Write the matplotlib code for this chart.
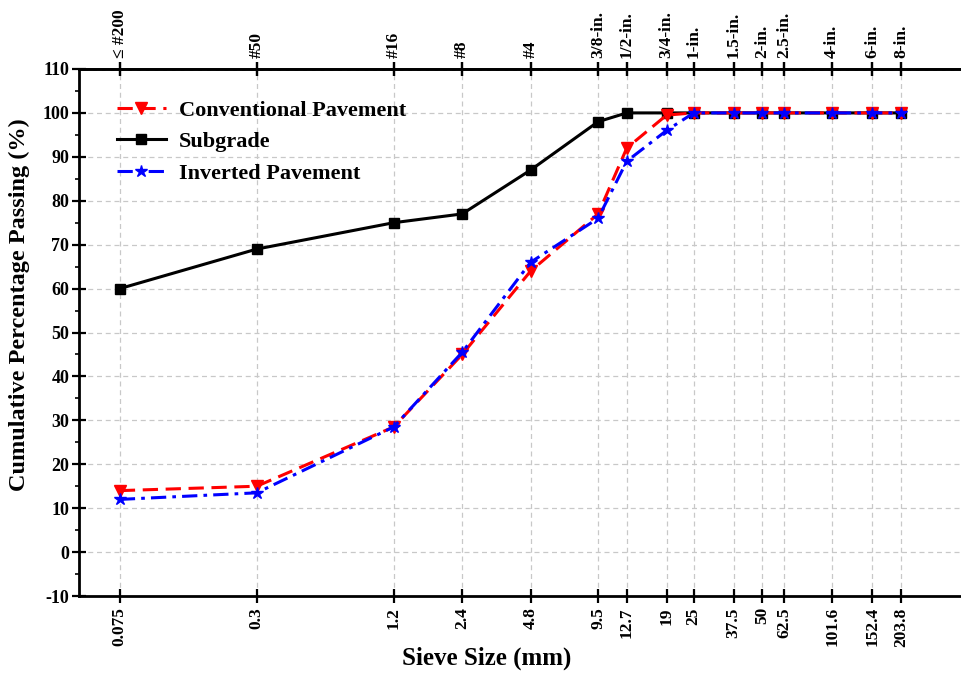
import matplotlib
matplotlib.use("Agg")
import matplotlib.pyplot as plt
from matplotlib.ticker import FixedLocator, MultipleLocator, NullLocator

# -------------------------
# Data
# -------------------------
sieve_mm = [0.075, 0.3, 1.2, 2.4, 4.8, 9.5, 12.7, 19, 25, 37.5, 50, 62.5, 101.6, 152.4, 203.8]
sieve_mm_labels = ["0.075", "0.3", "1.2", "2.4", "4.8", "9.5", "12.7", "19", "25",
                   "37.5", "50", "62.5", "101.6", "152.4", "203.8"]
sieve_names = ["\u2264 #200", "#50", "#16", "#8", "#4", "3/8-in.", "1/2-in.", "3/4-in.",
               "1-in.", "1.5-in.", "2-in.", "2.5-in.", "4-in.", "6-in.", "8-in."]

conventional = [14, 15, 28.5, 45, 64, 77, 92, 99.5, 100, 100, 100, 100, 100, 100, 100]
subgrade = [60, 69, 75, 77, 87, 98, 100, 100, 100, 100, 100, 100, 100, 100, 100]
inverted = [12, 13.5, 28.5, 45.5, 66, 76, 89, 96, 100, 100, 100, 100, 100, 100, 100]

# -------------------------
# Plot
# -------------------------
plt.rcParams["font.family"] = ["Liberation Serif", "DejaVu Sans"]
plt.rcParams["font.weight"] = "bold"
plt.rcParams["axes.unicode_minus"] = False

fig = plt.figure(figsize=(9.62, 6.79), dpi=100)
ax = fig.add_axes([0.0821, 0.1222, 0.9179, 0.7762])

l_sub, = ax.plot(sieve_mm, subgrade, color="black", lw=2.2, ls="-",
                 marker="s", ms=6.5, zorder=3, label="Subgrade")
l_con, = ax.plot(sieve_mm, conventional, color="red", lw=2.2, ls=(0, (5, 2.5)),
                 marker="v", ms=8, zorder=4, label="Conventional Pavement")
l_inv, = ax.plot(sieve_mm, inverted, color="blue", lw=2.2, ls=(0, (5, 2, 1.2, 2)),
                 marker="*", ms=9, zorder=5, label="Inverted Pavement")

ax.set_xscale("log")
ax.set_xlim(0.0496, 378)
ax.set_ylim(-10, 110)

ax.xaxis.set_major_locator(FixedLocator(sieve_mm))
ax.xaxis.set_minor_locator(NullLocator())
ax.set_xticklabels(sieve_mm_labels, rotation=90, fontsize=12.5, fontweight="bold")
ax.yaxis.set_major_locator(MultipleLocator(10))
ax.yaxis.set_minor_locator(MultipleLocator(5))
ax.tick_params(axis="y", which="major", direction="inout", length=10, width=1.6,
               labelsize=13, pad=2)
ax.tick_params(axis="y", which="minor", direction="out", length=3, width=1.2)
ax.tick_params(axis="x", which="major", direction="inout", length=10, width=1.6,
               top=True, pad=3)

# sieve designations along the top edge
top = ax.secondary_xaxis("top")
top.xaxis.set_major_locator(FixedLocator(sieve_mm))
top.xaxis.set_minor_locator(NullLocator())
top.set_xticklabels(sieve_names, rotation=90, fontsize=12.5, fontweight="bold")
top.tick_params(direction="inout", length=10, width=1.6, pad=3)
top.spines["top"].set_linewidth(2)

for s in ["left", "bottom", "top"]:
    ax.spines[s].set_linewidth(2)
ax.spines["right"].set_visible(False)

ax.grid(True, which="major", axis="both", color="#c8c8c8", ls=(0, (4, 3)), lw=0.9)
ax.set_axisbelow(True)

ax.set_xlabel("Sieve Size (mm)", fontsize=18, fontweight="bold", labelpad=3)
ax.xaxis.set_label_coords(0.462, -0.095)
ax.set_ylabel("Cumulative Percentage Passing (%)", fontsize=17.5, fontweight="bold")
ax.yaxis.set_label_coords(-0.056, 0.552)

ax.legend(handles=[l_con, l_sub, l_inv], loc="upper left", bbox_to_anchor=(0.02, 0.979),
          frameon=False, prop={"size": 16, "weight": "bold"}, handlelength=2.2,
          labelspacing=0.5, handletextpad=0.6)

fig.savefig("out.png", dpi=100)
